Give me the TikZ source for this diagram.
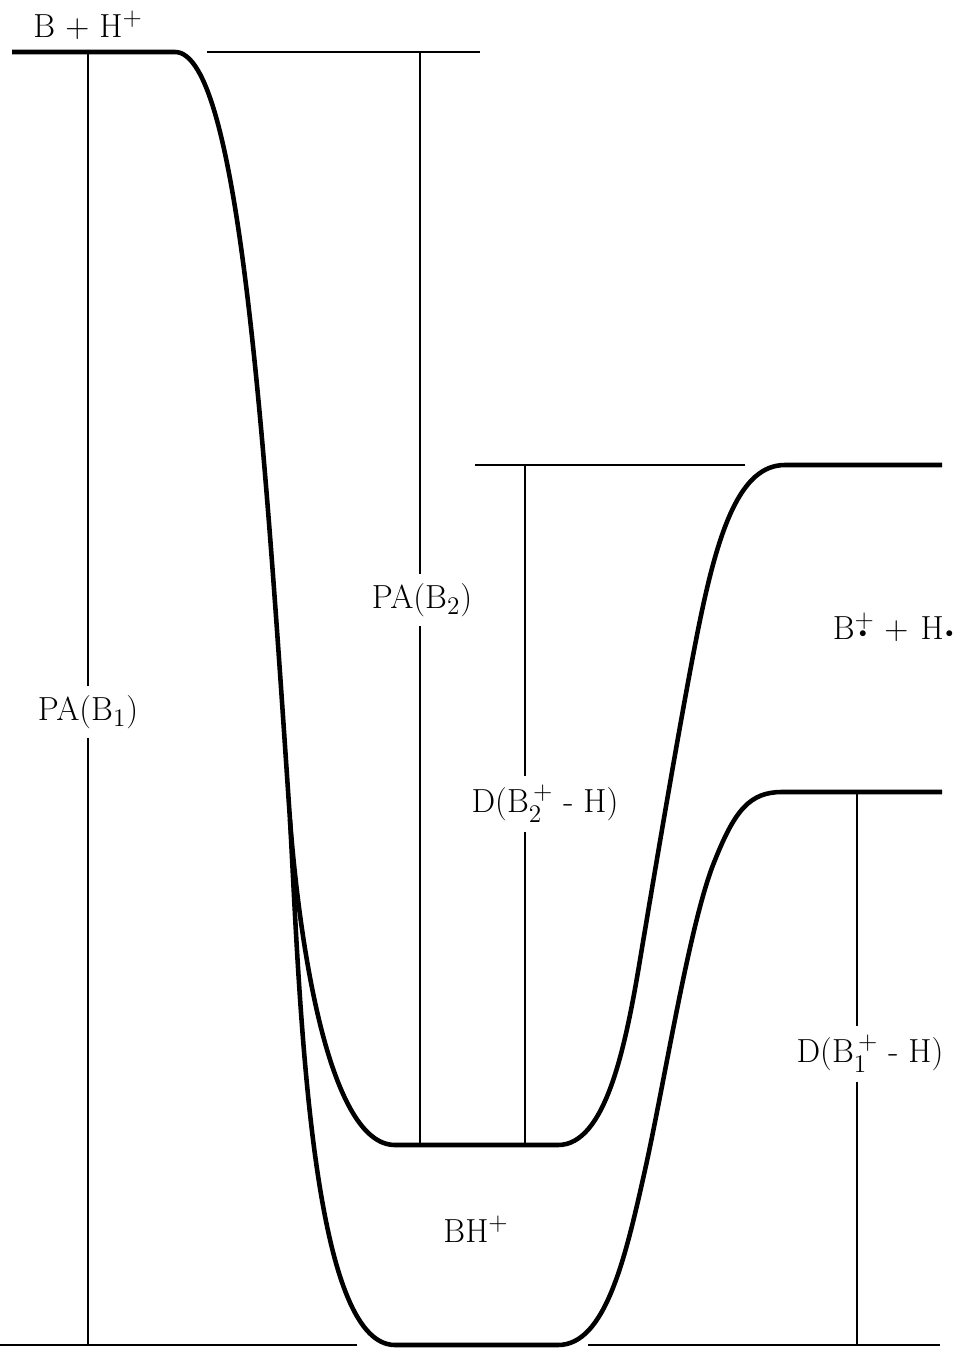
\documentclass[tikz,border=0pt]{standalone}
\usepackage{amsmath}
\usepackage{tikz}
\usetikzlibrary{positioning}

\newcommand{\rdot}{\raisebox{1pt}{\scalebox{0.5}{$\bullet$}}}

\begin{document}
\begin{tikzpicture}[x=0.02cm, y=-0.02cm,
    every node/.style={font=\fontsize{19}{23}\selectfont},
    pot/.style={line width=2.6pt, line join=round},
    lvl/.style={line width=1.2pt},
    lab/.style={inner sep=5pt}
  ]
  \useasboundingbox (0,0) rectangle (961,1349);

  % points on the potential curves
  \coordinate (bh)   at (175,52);
  \coordinate (fork) at (290,820);
  \coordinate (w2l)  at (395,1145);
  \coordinate (w2r)  at (558,1145);
  \coordinate (w1l)  at (395,1345);
  \coordinate (w1r)  at (558,1345);
  \coordinate (d2l)  at (785,465);
  \coordinate (d1l)  at (782,792);

  % potential curves
  \draw[pot] (12,52) -- (bh) .. controls (240,52) and (265,450) .. (fork)
    .. controls (300,950) and (330,1145) .. (w2l) -- (w2r)
    .. controls (605,1145) and (625,1050) .. (640,960)
    .. controls (655,870) and (682,710) .. (698,630)
    .. controls (718,530) and (740,465) .. (d2l) -- (942,465);
  \draw[pot] (fork) .. controls (300,1000) and (310,1345) .. (w1l) -- (w1r)
    .. controls (605,1345) and (625,1260) .. (645,1170)
    .. controls (665,1080) and (690,920) .. (715,860)
    .. controls (735,810) and (750,792) .. (d1l) -- (942,792);

  % reference levels
  \draw[lvl] (207,52) -- (480,52);
  \draw[lvl] (475,465) -- (745,465);
  \draw[lvl] (0,1345) -- (357,1345);
  \draw[lvl] (588,1345) -- (940,1345);

  % labels
  \node[anchor=base] (bhp) at (88,37) {B + H$^{+}$};
  \node[anchor=base] (rad) at (893,639)
    {B\rlap{$^{+}$}\hspace{2.5pt}\rdot\hspace{10pt}+\hspace{7pt}H\hspace{1pt}\rdot};
  \node[anchor=base] (ion) at (476,1242) {BH$^{+}$};

  % energy differences
  \coordinate (pa1t) at (88,52);
  \coordinate (pa1b) at (88,1345);
  \node[lab] (pa1) at (88,712) {PA(B$_1$)};
  \draw[lvl] (pa1t) -- (pa1);
  \draw[lvl] (pa1) -- (pa1b);

  \coordinate (pa2t) at (420,52);
  \coordinate (pa2b) at (420,1145);
  \node[lab] (pa2) at (422,600) {PA(B$_2$)};
  \draw[lvl] (pa2t) -- (pa2t |- pa2.north);
  \draw[lvl] (pa2t |- pa2.south) -- (pa2b);

  \coordinate (dd2t) at (525,465);
  \coordinate (dd2b) at (525,1145);
  \node[lab] (dd2) at (545,804) {D(B$_2^{\,+}$ - H)};
  \draw[lvl] (dd2t) -- (dd2t |- dd2.north);
  \draw[lvl] (dd2t |- dd2.south) -- (dd2b);

  \coordinate (dd1t) at (857,792);
  \coordinate (dd1b) at (857,1345);
  \node[lab] (dd1) at (870,1054) {D(B$_1^{\,+}$ - H)};
  \draw[lvl] (dd1t) -- (dd1t |- dd1.north);
  \draw[lvl] (dd1t |- dd1.south) -- (dd1b);
\end{tikzpicture}
\end{document}
